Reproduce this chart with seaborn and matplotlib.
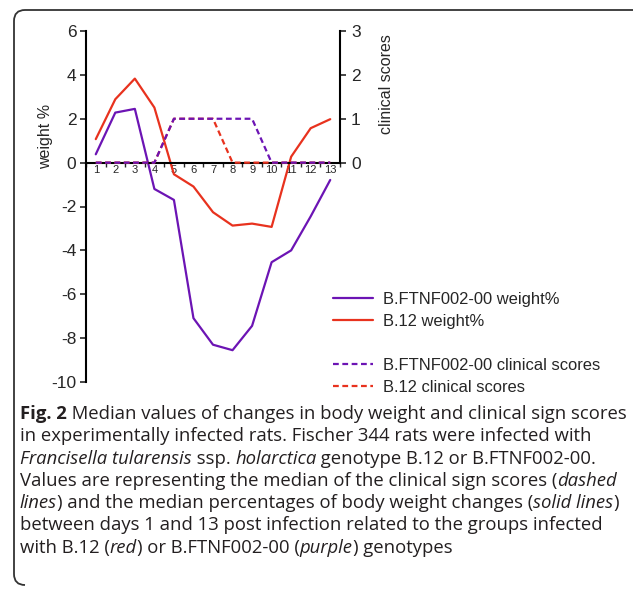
import numpy as np
import pandas as pd
import seaborn as sns
import matplotlib.pyplot as plt
from matplotlib.lines import Line2D
from matplotlib.path import Path
from matplotlib.patches import PathPatch

days = list(range(1, 14))
weight_ftnf = [0.38, 2.28, 2.45, -1.2, -1.7, -7.09, -8.3, -8.55, -7.44, -4.54, -4.0, -2.45, -0.79]
weight_b12 = [1.07, 2.89, 3.83, 2.51, -0.53, -1.09, -2.26, -2.87, -2.78, -2.93, 0.27, 1.57, 1.98]
score_ftnf = [0, 0, 0, 0, 1, 1, 1, 1, 1, 0, 0, 0, 0]
score_b12 = [0, 0, 0, 0, 1, 1, 1, 0, 0, 0, 0, 0, 0]

purple = '#6c14b4'
red = '#e8321e'

sns.set_style('white')
plt.rcParams['font.family'] = ['Liberation Sans', 'DejaVu Sans']

W, H = 633, 595
fig = plt.figure(figsize=(W / 100, H / 100), dpi=100)
ax = fig.add_axes([86 / W, 1 - 382 / H, 254 / W, 351 / H])
ax2 = ax.twinx()

df = pd.DataFrame({'day': days, 'wf': weight_ftnf, 'wb': weight_b12,
                   'sf': score_ftnf, 'sb': score_b12})

dash = (0, (2.6, 1.6))
sns.lineplot(data=df, x='day', y='wf', ax=ax, color=purple, lw=1.6, legend=False)
sns.lineplot(data=df, x='day', y='wb', ax=ax, color=red, lw=1.6, legend=False)
sns.lineplot(data=df, x='day', y='sb', ax=ax2, color=red, lw=1.6, linestyle=dash, legend=False)
sns.lineplot(data=df, x='day', y='sf', ax=ax2, color=purple, lw=1.6, linestyle=dash, legend=False)

ax.set_xlim(0.5, 13.5)
ax.set_ylim(-10, 6)
ax2.set_ylim(-5, 3)

for s in ['top', 'right']:
    ax.spines[s].set_visible(False)
for s in ['top', 'left', 'bottom']:
    ax2.spines[s].set_visible(False)
for s in ['left', 'bottom']:
    ax.spines[s].set_linewidth(1.5)
    ax.spines[s].set_color('black')
ax2.spines['right'].set_linewidth(1.5)
ax2.spines['right'].set_color('black')
ax2.spines['right'].set_bounds(0, 3)
ax.spines['bottom'].set_position(('data', 0))

ax.set_yticks(range(-10, 7, 2))
ax.set_yticklabels([str(v) for v in range(-10, 7, 2)])
ax.tick_params(axis='y', direction='out', length=4, width=1.2, labelsize=12.5, left=True, pad=3)
ax2.set_yticks([0, 1, 2, 3])
ax2.tick_params(axis='y', direction='out', length=4, width=1.2, labelsize=12.5, right=True, pad=4)

ax.set_xticks(np.arange(0.5, 14, 1))
ax.set_xticklabels([])
ax.set_xticks(days, minor=True)
ax.set_xticklabels([str(d) for d in days], minor=True)
ax.tick_params(axis='x', which='major', direction='out', length=3, width=1, bottom=True)
ax.tick_params(axis='x', which='minor', length=0, labelsize=8, pad=2, bottom=True)

ax.set_xlabel('')
ax.set_ylabel('weight %', fontsize=11.5)
ax.yaxis.set_label_coords(-0.13, 0.70)
ax2.set_ylabel('clinical scores', fontsize=11.5)
ax2.yaxis.set_label_coords(1.155, 0.85)

handles = [Line2D([], [], color=purple, lw=1.6),
           Line2D([], [], color=red, lw=1.6),
           Line2D([], [], color='none'),
           Line2D([], [], color=purple, lw=1.6, linestyle=dash),
           Line2D([], [], color=red, lw=1.6, linestyle=dash)]
labels = ['B.FTNF002-00 weight%', 'B.12 weight%', ' ',
          'B.FTNF002-00 clinical scores', 'B.12 clinical scores']
fig.legend(handles, labels, loc='upper left', bbox_to_anchor=(333 / W, 1 - 292 / H),
           frameon=False, fontsize=11.9, handlelength=2.4, handletextpad=0.6,
           labelspacing=0.42, borderaxespad=0, borderpad=0)

# caption
cap = [
    [('Fig. 2', 'bold'), (' Median values of changes in body weight and clinical sign scores', 'n')],
    [('in experimentally infected rats. Fischer 344 rats were infected with', 'n')],
    [('Francisella tularensis', 'i'), (' ssp. ', 'n'), ('holarctica', 'i'),
     (' genotype B.12 or B.FTNF002-00.', 'n')],
    [('Values are representing the median of the clinical sign scores (', 'n'), ('dashed', 'i')],
    [('lines', 'i'), (') and the median percentages of body weight changes (', 'n'),
     ('solid lines', 'i'), (')', 'n')],
    [('between days 1 and 13 post infection related to the groups infected', 'n')],
    [('with B.12 (', 'n'), ('red', 'i'), (') or B.FTNF002-00 (', 'n'), ('purple', 'i'),
     (') genotypes', 'n')],
]
renderer = fig.canvas.get_renderer()
for i, line in enumerate(cap):
    x = 20.0
    yb = 419 + 22.3 * i
    for txt, st in line:
        t = fig.text(x / W, 1 - yb / H, txt, fontsize=13.3, family='Open Sans',
                     fontweight='bold' if st == 'bold' else 'normal',
                     style='italic' if st == 'i' else 'normal',
                     va='baseline', ha='left', color='#231f20')
        bb = t.get_window_extent(renderer)
        x += bb.width

# frame round the figure
r = 11
pts = [(W + 5, 10), (14 + r, 10), (14, 10), (14, 10 + r), (14, 585 - r), (14, 585), (14 + r, 585)]
codes = [Path.MOVETO, Path.LINETO, Path.CURVE3, Path.CURVE3, Path.LINETO, Path.CURVE3, Path.CURVE3]
pts = [(px / W, 1 - py / H) for px, py in pts]
fig.patches.append(PathPatch(Path(pts, codes), fill=False, lw=1.3, ec='#333333',
                             transform=fig.transFigure))

fig.savefig('out.png', dpi=100)
